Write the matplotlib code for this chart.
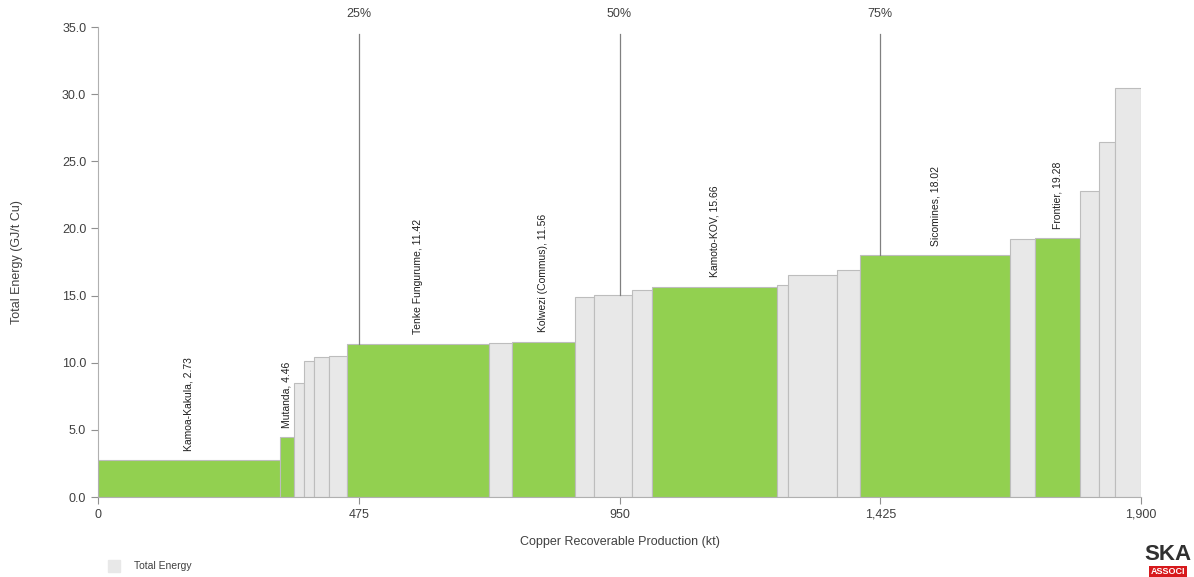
import matplotlib.pyplot as plt
from matplotlib.patches import Rectangle
import numpy as np

plt.rcParams["font.family"] = ["Liberation Sans", "DejaVu Sans"]

# cost-curve style: bar width = production (kt), height = energy (GJ/t Cu)
names = [
    "Kamoa-Kakula", "Mutanda", "", "", "", "", "Tenke Fungurume", "",
    "Kolwezi (Commus)", "", "", "", "Kamoto-KOV", "", "", "",
    "Sicomines", "", "Frontier", "", "", "",
]
production = [331, 26, 18, 19, 26, 33, 260, 41, 115, 34, 70, 36,
              228, 20, 90, 41, 274, 45, 81, 36, 28, 48]
energy = [2.73, 4.46, 8.47, 10.13, 10.45, 10.5, 11.42, 11.5, 11.56, 14.9, 15.05, 15.45,
          15.66, 15.8, 16.55, 16.87, 18.02, 19.2, 19.28, 22.8, 26.4, 30.45]
highlight = [True, True, False, False, False, False, True, False, True, False, False, False,
             True, False, False, False, True, False, True, False, False, False]

quartiles = [475, 950, 1425]
quartile_labels = ["25%", "50%", "75%"]
x_ticks = [0, 475, 950, 1425, 1900]

GREEN = "#92D050"
GREY = "#E8E8E8"
EDGE = "#BDBDBD"
TXT = "#404040"

fig = plt.figure(figsize=(11.94, 5.77), dpi=100)
ax = fig.add_axes([0.0821, 0.1386, 0.8735, 0.8146])

left = np.concatenate([[0], np.cumsum(production)[:-1]])
ax.bar(left, energy, width=production, align="edge",
       color=[GREEN if h else GREY for h in highlight],
       edgecolor=EDGE, linewidth=0.8, zorder=2)

for x0, w, h, nm, hl in zip(left, production, energy, names, highlight):
    if hl:
        ax.text(x0 + w / 2, h + 0.7, f"{nm}, {h:.2f}", rotation=90,
                ha="center", va="bottom", fontsize=7.5, color="#202020", zorder=4)

# quartile markers: from top of chart down to the bar under them
for q, lab in zip(quartiles, quartile_labels):
    idx = np.searchsorted(left + np.array(production), q)
    ax.plot([q, q], [energy[idx], 34.5], color="#808080", lw=0.9, zorder=3,
            clip_on=False)
    ax.text(q, 35.5, lab, ha="center", va="bottom", fontsize=9, color=TXT)

ax.set_xlim(0, 1900)
ax.set_ylim(0, 35)
ax.set_xticks(x_ticks)
ax.set_xticklabels([f"{t:,}" for t in x_ticks])
ax.set_yticks(np.arange(0, 35.1, 5))
ax.set_yticklabels([f"{t:.1f}" for t in np.arange(0, 35.1, 5)])
ax.tick_params(colors="#909090", labelcolor=TXT, labelsize=9, length=5, width=0.8)

for side in ["top", "right"]:
    ax.spines[side].set_visible(False)
for side in ["left", "bottom"]:
    ax.spines[side].set_color("#B0B0B0")
    ax.spines[side].set_linewidth(0.8)

ax.set_xlabel("Copper Recoverable Production (kt)", fontsize=9, color=TXT, labelpad=11)
ax.set_ylabel("Total Energy (GJ/t Cu)", fontsize=9, color=TXT, labelpad=28)

# legend swatch
fig.patches.append(Rectangle((108 / 1194, 1 - 572 / 577), 12 / 1194, 12 / 577,
                             transform=fig.transFigure, color=GREY, zorder=1))
fig.text(134 / 1194, 1 - 566 / 577, "Total Energy", fontsize=7.5, color=TXT, va="center")

# logo
fig.text(1168 / 1194, 1 - 554 / 577, "SKA", fontsize=16, fontweight="bold",
         color="#303030", ha="center", va="center",
         family=["Liberation Sans Narrow", "Liberation Sans"])
fig.text(1168 / 1194, 1 - 572 / 577, "ASSOCI", fontsize=6.5, fontweight="bold",
         color="white", ha="center", va="center",
         bbox=dict(boxstyle="square,pad=0.2", fc="#D7191C", ec="none"))

fig.savefig("out.png", dpi=100)
